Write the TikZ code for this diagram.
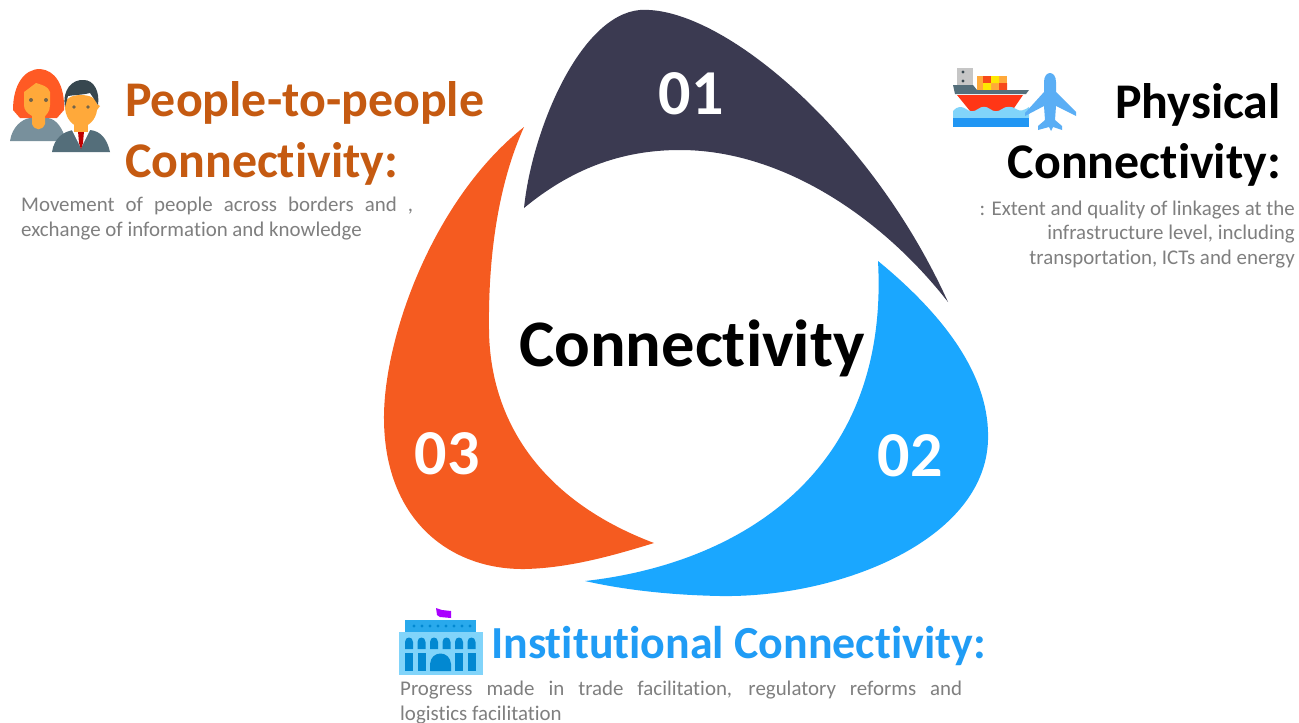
\documentclass[tikz,border=0pt]{standalone}
\usepackage{fontspec}
\setmainfont[Ligatures=NoCommon]{Carlito}
\definecolor{navyc}{HTML}{3B3A51}
\definecolor{bluec}{HTML}{1AA7FF}
\definecolor{orangec}{HTML}{F55B20}
\definecolor{brownc}{HTML}{C55A11}
\definecolor{headblue}{HTML}{209CF5}
\definecolor{greyt}{HTML}{7F7F7F}
\definecolor{skin}{HTML}{FFA93A}
\definecolor{hair}{HTML}{FF5A24}
\definecolor{suitg}{HTML}{78909C}
\definecolor{suitd}{HTML}{546E7A}
\definecolor{darkh}{HTML}{37474F}
\definecolor{planeb}{HTML}{5AAEF5}
\definecolor{wave}{HTML}{2196F3}
\definecolor{wavel}{HTML}{81D4FA}
\definecolor{bldg}{HTML}{81D4FA}
\definecolor{bldgd}{HTML}{0288D1}
\definecolor{bldgm}{HTML}{29A9EC}
\definecolor{flagc}{HTML}{AA00FF}
\tikzset{
  head/.style={font=\fontsize{49.9}{50}\selectfont\bfseries,inner sep=0pt,align=center},
  headb/.style={font=\fontsize{45.9}{46}\selectfont\bfseries,inner sep=0pt,align=center},
  body/.style={font=\fontsize{20.9}{25}\selectfont,text=greyt,inner sep=0pt},
  num/.style={font=\fontsize{64}{64}\selectfont\bfseries,text=white,inner sep=0pt},
}
\begin{document}
\begin{tikzpicture}[x=1pt,y=-1pt]
\useasboundingbox (0,0) rectangle (1299,723);
\fill[white] (0,0) rectangle (1299,723);
% petals
\fill[navyc] (524,208) .. controls (532,130) and (580,15) .. (640,10)
  .. controls (720,5) and (870,130) .. (948,302)
  .. controls (880,215) and (780,150) .. (680,150)
  .. controls (620,150) and (570,170) .. (524,208) -- cycle;
\fill[bluec] (878,261) .. controls (950,320) and (990,380) .. (988,440)
  .. controls (985,540) and (840,598) .. (720,596)
  .. controls (670,595) and (625,590) .. (585,581)
  .. controls (730,565) and (890,480) .. (878,261) -- cycle;
\fill[orangec] (524,127) .. controls (432,200) and (383,340) .. (384,420)
  .. controls (385,520) and (450,570) .. (525,569)
  .. controls (570,568) and (615,555) .. (654,543)
  .. controls (540,500) and (490,420) .. (489,330)
  .. controls (488,250) and (500,180) .. (524,127) -- cycle;
% numbers
\node[num] (n1) at (691,94) {01};
\node[num] (n2) at (910,456) {02};
\node[num] (n3) at (447,454) {03};
\node[font=\fontsize{66.5}{66}\selectfont\bfseries,inner sep=0pt] (center) at (692,348) {Connectivity};
% headings
\node[head,text=brownc,anchor=west] (h3a) at (125,103) {People-to-people};
\node[head,text=brownc,anchor=west] (h3b) at (125,164) {Connectivity:};
\node[head,anchor=east] (h1a) at (1281,105) {Physical};
\node[head,anchor=east] (h1b) at (1281,165) {Connectivity:};
\node[headb,text=headblue,anchor=west] (h2) at (491,646) {Institutional Connectivity:};
% body
\node[body,anchor=base west] (b3a) at (21,211) {\makebox[392pt][s]{Movement of people across borders and ,}};
\node[body,anchor=base west] (b3b) at (21,236) {exchange of information and knowledge};
\node[body,anchor=base east] (b1a) at (1295,215) {: Extent and quality of linkages at the};
\node[body,anchor=base east] (b1b) at (1295,239) {infrastructure level, including};
\node[body,anchor=base east] (b1c) at (1295,264) {transportation, ICTs and energy};
\node[body,anchor=base west] (b2a) at (400,695) {\makebox[562pt][s]{Progress made in trade facilitation, regulatory reforms and}};
\node[body,anchor=base west] (b2b) at (400,720) {logistics facilitation};
% people icon: woman
\fill[hair] (13,110) .. controls (13,85) and (24,69) .. (40,69) .. controls (55,70) and (65,85) .. (64,110) -- (57,118) -- (20,118) -- cycle;
\fill[suitg] (10,141) .. controls (12,127) and (22,119) .. (30,118) -- (48,118) .. controls (56,119) and (63,128) .. (66,141) -- cycle;
\fill[skin] (24,92) .. controls (27,90) and (32,86) .. (36,83) .. controls (42,85) and (48,86) .. (50,92) -- (50,105) .. controls (50,112) and (46,115) .. (45,116) -- (45,124) .. controls (42,131) and (35,131) .. (32,124) -- (32,116) .. controls (27,113) and (24,110) .. (24,105) -- cycle;
% man
\fill[suitd] (52,152) .. controls (54,138) and (64,131) .. (74,130) -- (90,130) .. controls (100,131) and (107,138) .. (110,152) -- cycle;
\fill[white] (72,130) -- (90,130) -- (81,148) -- cycle;
\fill[red!75!black] (78,131) -- (84,131) -- (83,143) -- (81,149) -- (79,143) -- cycle;
\fill[skin] (74,124) rectangle (88,132);
\fill[skin] (65,104) .. controls (65,92) and (97,92) .. (97,104) -- (100,106) -- (97,110) .. controls (96,120) and (88,127) .. (81,127) .. controls (74,127) and (66,120) .. (65,108) -- cycle;
\fill[darkh] (65,107) .. controls (62,90) and (72,79) .. (84,80) .. controls (94,80) and (100,92) .. (98,105) .. controls (95,100) and (92,96) .. (90,93) .. controls (82,95) and (74,95) .. (68,96) -- cycle;
\fill[darkh!70!skin] (31,100) circle (2) (46,100) circle (2) (74,107) circle (1.8) (88,107) circle (1.8);
% ship icon
\fill[gray!45] (957,68) rectangle (973,86);
\fill[darkh] (963,72) circle (1.6) (963,81) circle (1.6);
\fill[skin] (977,76) rectangle (1007,90);
\fill[red!20!orangec] (983,76) rectangle (991,83) (999,83) rectangle (1007,90);
\fill[yellow!90!orange] (991,76) rectangle (999,83) (983,83) rectangle (991,90);
\fill[suitd] (953,85) -- (973,85) -- (977,90) -- (1029,90) -- (1026,94) -- (955,94) -- cycle;
\fill[hair!60!red] (957,95) -- (1023,95) -- (1012,111) -- (970,111) -- cycle;
\fill[wavel] (953,111) .. controls (957,106) and (962,106) .. (966,109) .. controls (970,112) and (974,112) .. (978,109) .. controls (982,106) and (986,106) .. (990,109) .. controls (994,112) and (998,112) .. (1002,109) .. controls (1006,106) and (1012,106) .. (1016,109) .. controls (1020,112) and (1025,110) .. (1029,107) -- (1029,118) -- (953,118) -- cycle;
\fill[wave] (953,118) -- (1029,118) -- (1029,127) -- (953,127) -- cycle;
% plane icon
\fill[planeb] (1044,82) .. controls (1044,70) and (1056,70) .. (1056,82) -- (1056,92) -- (1076,112) -- (1076,116) -- (1056,106) -- (1055,120) -- (1062,126) -- (1062,130) -- (1053,127) -- (1051,131) -- (1049,127) -- (1038,130) -- (1038,126) -- (1045,120) -- (1044,106) -- (1025,116) -- (1025,113) -- (1044,92) -- cycle;
% building icon
\fill[flagc] (436,608) -- (442,610) -- (451,611) -- (451,618) -- (440,617) -- (437,615) -- cycle;
\fill[bldgm] (405,620) rectangle (476,632);
\foreach \i in {0,...,7}{\fill[bldgd] (414+\i*8,626) circle (1.6);}
\fill[bldg] (399,632) rectangle (483,675);
\foreach \i in {0,...,5}{
  \fill[bldgd] (405+\i*12.5,649) -- (405+\i*12.5,642) .. controls (405+\i*12.5,636) and (413+\i*12.5,636) .. (413+\i*12.5,642) -- (413+\i*12.5,649) -- cycle;
}
\foreach \xa in {405,417.5,455,467.5}{\fill[bldgd] (\xa,653) rectangle (\xa+8,671);}
\fill[bldgd] (430,671) -- (430,664) .. controls (431,650) and (450,650) .. (451,664) -- (451,671) -- cycle;
\end{tikzpicture}
\end{document}
